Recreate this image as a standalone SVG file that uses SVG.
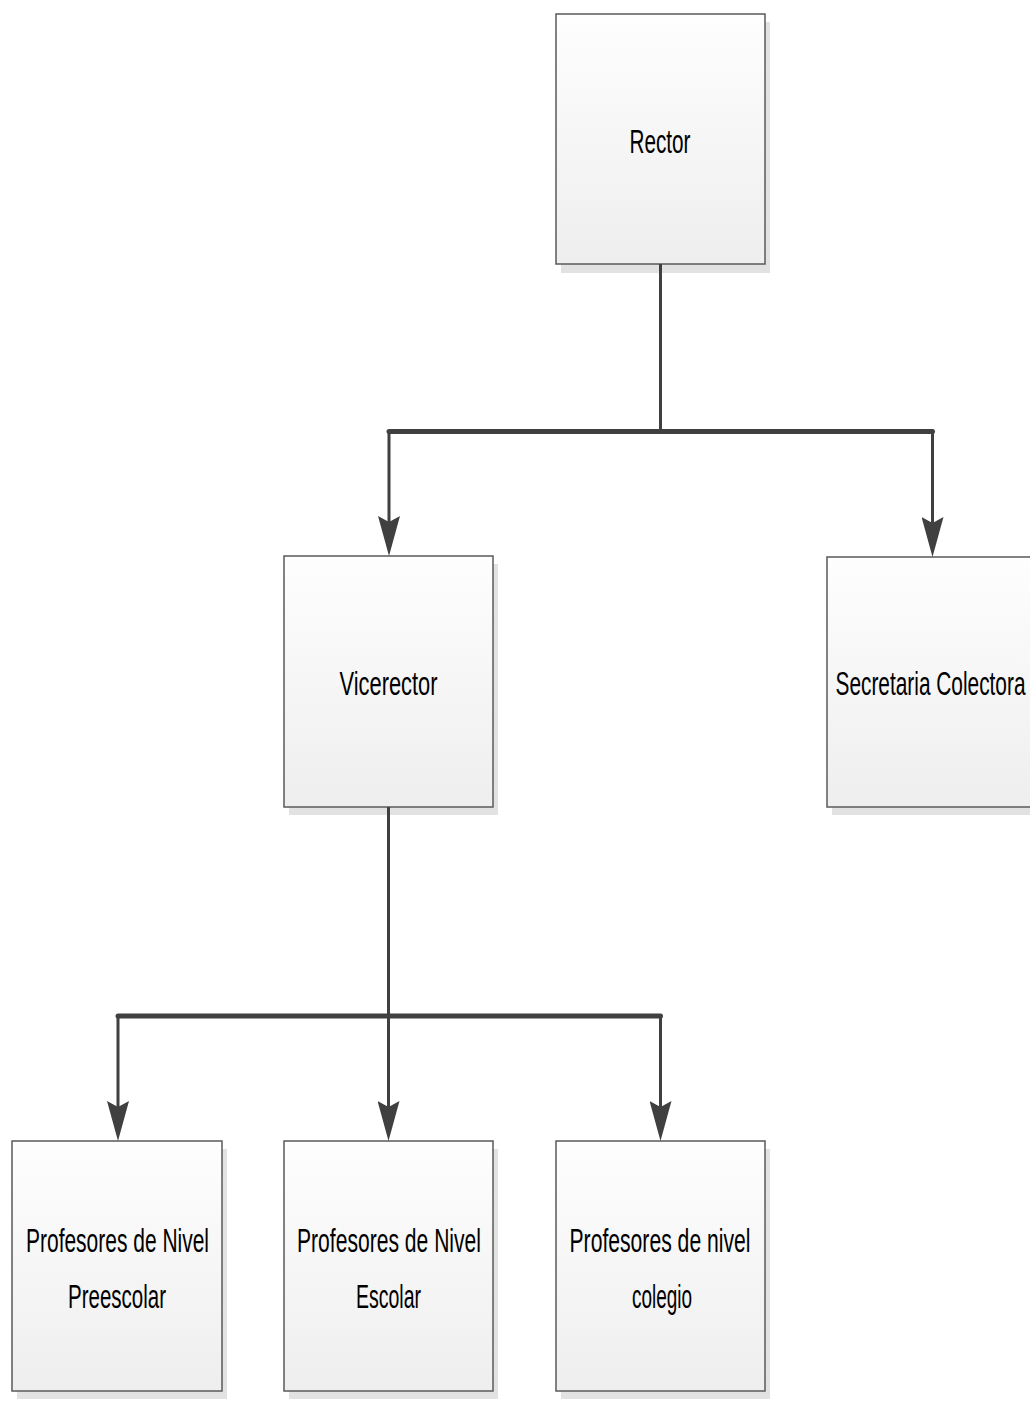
<svg xmlns="http://www.w3.org/2000/svg" width="1030" height="1411" viewBox="0 0 1030 1411">
  <defs>
    <linearGradient id="boxFill" x1="0" y1="0" x2="0" y2="1">
      <stop offset="0" stop-color="#fefefe"/>
      <stop offset="1" stop-color="#eeeeee"/>
    </linearGradient>
    <marker id="arrow" markerUnits="userSpaceOnUse" viewBox="0 0 40 22" markerWidth="40" markerHeight="22" refX="6" refY="11" orient="auto">
      <path d="M0,0 L40,11 L0,22 L6,11 Z" fill="#404040"/>
    </marker>
  </defs>
  <style>
    .shadow { fill: #e2e2e2; }
    .box { fill: url(#boxFill); stroke: #5a5a5a; stroke-width: 1.5; }
    .label { font-family: "Liberation Sans", Arial, sans-serif; font-size: 33px; fill: #000000; text-anchor: middle; }
    .conn { fill: none; stroke: #404040; stroke-width: 3; stroke-linejoin: round; }
    .bar { fill: none; stroke: #404040; stroke-width: 5; stroke-linecap: round; }
  </style>
  <rect width="1030" height="1411" fill="#ffffff"/>

  <g id="rector">
    <rect class="shadow" x="561" y="22" width="209" height="251"/>
    <rect class="box" x="556" y="14" width="209" height="250"/>
    <text class="label" x="660" y="153" textLength="61" lengthAdjust="spacingAndGlyphs">Rector</text>
  </g>

  <g id="vicerector">
    <rect class="shadow" x="289" y="564" width="209" height="251"/>
    <rect class="box" x="284" y="556" width="209" height="251"/>
    <text class="label" x="388.5" y="695" textLength="98" lengthAdjust="spacingAndGlyphs">Vicerector</text>
  </g>

  <g id="secretaria">
    <rect class="shadow" x="832" y="565" width="209" height="250"/>
    <rect class="box" x="827" y="557" width="209" height="250"/>
    <text class="label" x="930.5" y="695" textLength="190" lengthAdjust="spacingAndGlyphs">Secretaria Colectora</text>
  </g>

  <g id="preescolar">
    <rect class="shadow" x="17" y="1149" width="210" height="250"/>
    <rect class="box" x="12" y="1141" width="210" height="250"/>
    <text class="label" x="117.5" y="1252" textLength="183" lengthAdjust="spacingAndGlyphs">Profesores de Nivel</text>
    <text class="label" x="117" y="1308" textLength="98" lengthAdjust="spacingAndGlyphs">Preescolar</text>
  </g>

  <g id="escolar">
    <rect class="shadow" x="289" y="1149" width="209" height="250"/>
    <rect class="box" x="284" y="1141" width="209" height="250"/>
    <text class="label" x="389" y="1252" textLength="184" lengthAdjust="spacingAndGlyphs">Profesores de Nivel</text>
    <text class="label" x="388.5" y="1308" textLength="65" lengthAdjust="spacingAndGlyphs">Escolar</text>
  </g>

  <g id="colegio">
    <rect class="shadow" x="561" y="1149" width="209" height="250"/>
    <rect class="box" x="556" y="1141" width="209" height="250"/>
    <text class="label" x="660" y="1252" textLength="181" lengthAdjust="spacingAndGlyphs">Profesores de nivel</text>
    <text class="label" x="662" y="1308" textLength="60" lengthAdjust="spacingAndGlyphs">colegio</text>
  </g>

  <g id="connectors">
    <path class="conn" d="M660.5,264 V431.5 H389 V522" marker-end="url(#arrow)"/>
    <path class="conn" d="M660.5,431.5 H932.5 V523" marker-end="url(#arrow)"/>
    <line class="bar" x1="389" y1="431.5" x2="932.5" y2="431.5"/>
    <path class="conn" d="M388.5,807 V1016 H118 V1107" marker-end="url(#arrow)"/>
    <path class="conn" d="M388.5,1016 V1107" marker-end="url(#arrow)"/>
    <path class="conn" d="M388.5,1016 H660.5 V1107" marker-end="url(#arrow)"/>
    <line class="bar" x1="118" y1="1016" x2="660.5" y2="1016"/>
  </g>
</svg>
